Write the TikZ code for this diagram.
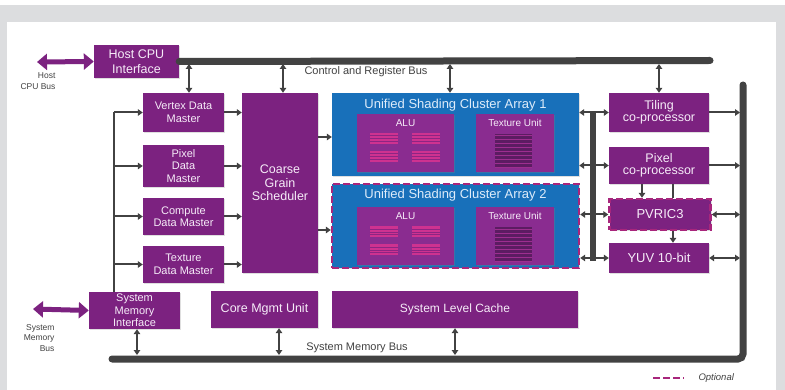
\documentclass[tikz,border=0pt]{standalone}
\usepackage{fontspec}
\setmainfont{Liberation Sans}
\usetikzlibrary{arrows.meta,positioning,calc,shadows}

\definecolor{gpurple}{RGB}{124,34,128}
\definecolor{ginner}{RGB}{138,44,144}
\definecolor{gblue}{RGB}{24,112,186}
\definecolor{gbus}{RGB}{66,66,66}
\definecolor{gpink}{RGB}{206,50,144}
\definecolor{gtex}{RGB}{92,28,98}
\definecolor{goption}{RGB}{168,38,124}
\definecolor{gframe}{RGB}{220,221,223}
\definecolor{gtext}{RGB}{246,236,248}
\definecolor{gtitle}{RGB}{222,236,250}

\tikzset{
  unit/.style={fill=gpurple, text=gtext, align=center, inner sep=1pt,
    drop shadow={opacity=0.25, shadow xshift=1.2pt, shadow yshift=-1.2pt}},
  cluster/.style={fill=gblue, minimum width=247pt,
    drop shadow={opacity=0.25, shadow xshift=1.2pt, shadow yshift=-1.2pt}},
  inner/.style={fill=ginner, minimum height=58pt,
    drop shadow={opacity=0.3, shadow xshift=1pt, shadow yshift=-1pt}},
  optional/.style={draw=goption, line width=2.4pt, dash pattern=on 7pt off 3pt},
  link/.style={draw=gbus, line width=2pt, -{Triangle[length=5pt,width=6.5pt]}},
  dlink/.style={link, {Triangle[length=5pt,width=6.5pt]}-{Triangle[length=5pt,width=6.5pt]}},
  bus/.style={draw=gbus, line width=7pt, line cap=round},
  extbus/.style={draw=gpurple, line width=5pt,
    {Triangle[length=10pt,width=16pt]}-{Triangle[length=10pt,width=16pt]}},
  buslabel/.style={text=gbus, font=\fontsize{11}{13}\selectfont},
  extlabel/.style={text=gbus, align=right, font=\fontsize{8.5}{10.5}\selectfont},
}

\begin{document}
\begin{tikzpicture}[x=1pt, y=-1pt, every node/.style={font=\fontsize{11}{12.5}\selectfont}]
    \useasboundingbox (0,0) rectangle (785,390);
    \fill[gframe] (0,5) rectangle (785,390);
    \fill[white] (7,22) rectangle (776,390);

    % host side
    \node[unit, minimum width=85pt, minimum height=33pt, font=\fontsize{12.5}{14.5}\selectfont] (host) at (136.5,61.5) {Host CPU\\Interface};
    \node[unit, minimum width=91pt, minimum height=37pt] (smi) at (134.5,310.5) {System\\Memory\\Interface};

    % data masters
    \node[unit, minimum width=81pt, minimum height=39pt] (m1) at (183.5,112.5) {Vertex Data\\Master};
    \node[unit, minimum width=81pt, minimum height=42pt] (m2) at (183.5,166) {Pixel\\Data\\Master};
    \node[unit, minimum width=81pt, minimum height=37pt] (m3) at (183.5,216.5) {Compute\\Data Master};
    \node[unit, minimum width=81pt, minimum height=37pt] (m4) at (183.5,264.5) {Texture\\Data Master};

    \node[unit, minimum width=76pt, minimum height=180pt, font=\fontsize{12.5}{13.5}\selectfont] (cgs) at (280,183) {Coarse\\Grain\\Scheduler};
    \node[unit, minimum width=107pt, minimum height=37pt, font=\fontsize{12.5}{14}\selectfont] (cmu) at (264.5,309.5) {Core Mgmt Unit};
    \node[unit, minimum width=246pt, minimum height=37pt, font=\fontsize{12}{14}\selectfont] (slc) at (455,309.5) {System Level Cache};

    % shading clusters
    \node[cluster, minimum height=83pt] (usc1) at (455.5,134.5) {};
    \node[cluster, minimum height=84pt, optional] (usc2) at (455.5,226) {};
    \foreach \c in {1,2} {
        \node[text=gtitle, font=\fontsize{13}{15}\selectfont] at ($(usc\c.north)+(0,12)$) {Unified Shading Cluster Array \c};
    }
    \node[inner, minimum width=97pt] (alu1) at (405.5,143) {};
    \node[inner, minimum width=78pt] (tu1) at (515,143) {};
    \node[inner, minimum width=97pt] (alu2) at (405.5,236.5) {};
    \node[inner, minimum width=78pt] (tu2) at (515,236.5) {};
    \foreach \c in {1,2} {
        \node[text=gtext, font=\fontsize{10}{11}\selectfont] at ($(alu\c.north)+(0,9)$) {ALU};
        \node[text=gtext, font=\fontsize{10}{11}\selectfont] at ($(tu\c.north)+(0,9)$) {Texture Unit};
        \foreach \dx/\dy in {13/19,55/19,13/37,55/37} {
            \fill[gpink] ($(alu\c.north west)+(\dx,\dy)$) rectangle +(28,11);
            \foreach \k in {1,2,3}
                \draw[gpurple!80!gpink, line width=0.5pt] ($(alu\c.north west)+(\dx,\dy+2.75*\k)$) -- +(28,0);
        }
        \fill[gtex] ($(tu\c.north west)+(19,20)$) rectangle +(37,34);
        \foreach \k in {0,...,8}
            \draw[ginner!70!gpink, line width=0.6pt] ($(tu\c.north west)+(19,22+4*\k)$) -- +(37,0);
    }

    % right side units
    \node[unit, minimum width=100pt, minimum height=39pt, font=\fontsize{12.5}{12.5}\selectfont] (tile) at (659,112.5) {Tiling\\co-processor};
    \node[unit, minimum width=100pt, minimum height=37pt, font=\fontsize{12.5}{12.5}\selectfont] (pcp) at (659,165.5) {Pixel\\co-processor};
    \node[unit, optional, minimum width=101pt, minimum height=31pt, font=\fontsize{13}{14}\selectfont] (pvric) at (660,214.5) {PVRIC3};
    \node[unit, minimum width=100pt, minimum height=30pt, font=\fontsize{13}{14}\selectfont] (yuv) at (659,258) {YUV 10-bit};

    % buses
    \coordinate (cbusend) at (710,60.5);
    \coordinate (cbus) at (0,64);
    \coordinate (mbus) at (0,355);
    \coordinate (rbus) at (740,0);
    \coordinate (lbus) at (114,0);
    \coordinate (hostbus) at (37,62);
    \coordinate (sysbus) at (33,309);
    \draw[bus] (host.east) -- (cbusend);
    \draw[bus, rounded corners=5pt] (743,85) -- (743,359) -- (112,359);
    \draw[bus, line width=6pt, line cap=butt] (593,113) -- (593,261);
    \draw[gbus, line width=2pt] (m1.west -| lbus) -- (smi.north -| lbus);

    \draw[extbus] (hostbus) -- (host.west);
    \draw[extbus] (sysbus) -- (smi.west);
    \node[extlabel, anchor=east] (hostlbl) at (59,81) {Host\\CPU Bus};
    \node[extlabel, anchor=east] (syslbl) at (58,338) {System\\Memory\\Bus};

    \node[buslabel] (cbuslbl) at (366,72) {Control and Register Bus};
    \node[buslabel] (mbuslbl) at (357,348) {System Memory Bus};

    % control bus taps
    \draw[dlink] ([xshift=5.5pt]m1.north |- cbus) -- ([xshift=5.5pt]m1.north);
    \draw[dlink] ([xshift=3pt]cgs.north |- cbus) -- ([xshift=3pt]cgs.north);
    \draw[dlink] ([xshift=-5.5pt]usc1.north |- cbus) -- ([xshift=-5.5pt]usc1.north);
    \draw[dlink] (tile.north |- cbus) -- (tile.north);

    % memory bus taps
    \draw[dlink] ([xshift=2.5pt]smi.south) -- ([xshift=2.5pt]smi.south |- mbus);
    \draw[dlink] ([xshift=14.5pt]cmu.south) -- ([xshift=14.5pt]cmu.south |- mbus);
    \draw[dlink] (slc.south) -- (slc.south |- mbus);

    % masters
    \foreach \i in {1,2,3,4} {
        \draw[link] (m\i.west -| lbus) -- (m\i.west);
        \draw[link] (m\i.east) -- (m\i.east -| cgs.west);
    }
    \draw[link] (cgs.east |- 0,137) -- (usc1.west |- 0,137);
    \draw[link] (cgs.east |- 0,230) -- (usc2.west |- 0,230);

    % cluster side bus
    \draw[dlink] (usc1.east |- tile.west) -- (tile.west);
    \draw[dlink] (usc1.east |- pcp.west) -- (pcp.west);
    \draw[dlink] (usc2.east |- pvric.west) -- (pvric.west);
    \draw[dlink] (usc2.east |- yuv.west) -- (yuv.west);

    % right units to bus
    \draw[link] (tile.east) -- (tile.east -| rbus);
    \draw[link] (pcp.east) -- (pcp.east -| rbus);
    \draw[dlink] (pvric.east) -- (pvric.east -| rbus);
    \draw[dlink] (yuv.east) -- (yuv.east -| rbus);
    \draw[link] ([xshift=-17pt]pcp.south) -- ([xshift=-17pt]pcp.south |- pvric.north);
    \draw[gbus, line width=2pt] ([xshift=14pt]pcp.south) -- ([xshift=14pt]pcp.south |- pvric.north);
    \draw[link] ([xshift=14pt]pcp.south |- pvric.south) -- ([xshift=14pt]yuv.north);

    % legend
    \coordinate (opt) at (653,378);
    \draw[optional] (opt) -- ++(31,0) node[right=10pt, text=gbus, font=\itshape\fontsize{9.5}{11}\selectfont] (optlbl) {Optional};
\end{tikzpicture}
\end{document}
